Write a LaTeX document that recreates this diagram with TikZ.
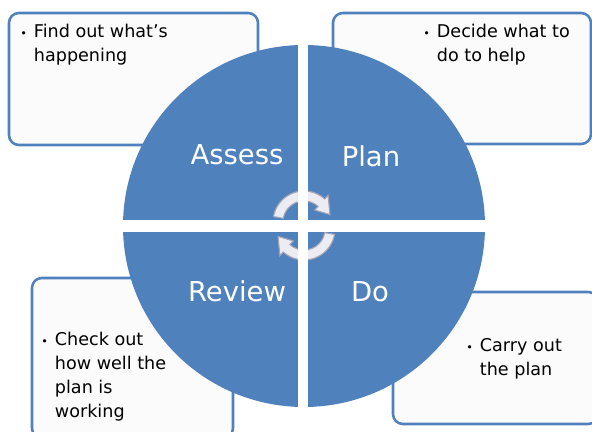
\documentclass[tikz,border=0pt]{standalone}
\usepackage{fontspec}
\setmainfont{DejaVu Sans}

\definecolor{stageblue}{RGB}{79,129,189}
\definecolor{boxfill}{RGB}{251,251,251}
\definecolor{arrowfill}{RGB}{236,236,242}
\definecolor{arrowline}{RGB}{165,165,182}

\tikzset{
	notebox/.style={draw=stageblue, fill=boxfill, line width=1.8pt, rounded corners=7pt},
	notetext/.style={anchor=base west, inner sep=0pt, font=\fontsize{12.5}{17}\selectfont},
	stagelabel/.style={anchor=base, inner sep=0pt, text=white, font=\fontsize{19.5}{24}\selectfont},
	cyclearrow/.style={fill=arrowfill, draw=arrowline, line width=0.8pt}
}

\newcommand{\notebullet}{{\footnotesize\textbullet}}

\begin{document}
\begin{tikzpicture}[x=0.025cm,y=0.025cm]
\useasboundingbox (-304,-206) rectangle (288,226);

% the four note boxes behind the circle
\draw[notebox] (-295,213) rectangle (-46,81);
\draw[notebox] (29,213) rectangle (287,82);
\draw[notebox] (-272,-52) rectangle (-71,-212);
\draw[notebox] (89,-66) rectangle (294,-198);

\node[notetext] (find) at (-284,188) {\begin{tabular}[t]{@{}l@{\hspace{5pt}}l@{}}
	\notebullet & Find out what\symbol{39}s\\
	& happening
\end{tabular}};
\node[notetext] (decide) at (119,188) {\begin{tabular}[t]{@{}l@{\hspace{5pt}}l@{}}
	\notebullet & Decide what to\\
	& do to help
\end{tabular}};
\node[notetext] (check) at (-263,-120) {\begin{tabular}[t]{@{}l@{\hspace{5pt}}l@{}}
	\notebullet & Check out\\
	& how well the\\
	& plan is\\
	& working
\end{tabular}};
\node[notetext] (carry) at (162,-126) {\begin{tabular}[t]{@{}l@{\hspace{5pt}}l@{}}
	\notebullet & Carry out\\
	& the plan
\end{tabular}};

% the cycle
\fill[stageblue] (0,0) circle (181);

\foreach \r/\c in {0/4,180/-3}
{
	\filldraw[cyclearrow, shift={(0,\c)}, rotate=\r] (170:31) arc[start angle=170, end angle=48, radius=31]
		-- (48:36) -- (16:27) -- (48:16) -- (48:21)
		arc[start angle=48, end angle=170, radius=21] -- cycle;
}

\fill[white] (-6,-183) rectangle (4,183);
\fill[white] (-183,-6) rectangle (183,6);

\node[stagelabel] (assess) at (-67,61) {Assess};
\node[stagelabel] (plan) at (67,59) {Plan};
\node[stagelabel] (review) at (-67,-76) {Review};
\node[stagelabel] (do) at (66,-76) {Do};
\end{tikzpicture}
\end{document}
